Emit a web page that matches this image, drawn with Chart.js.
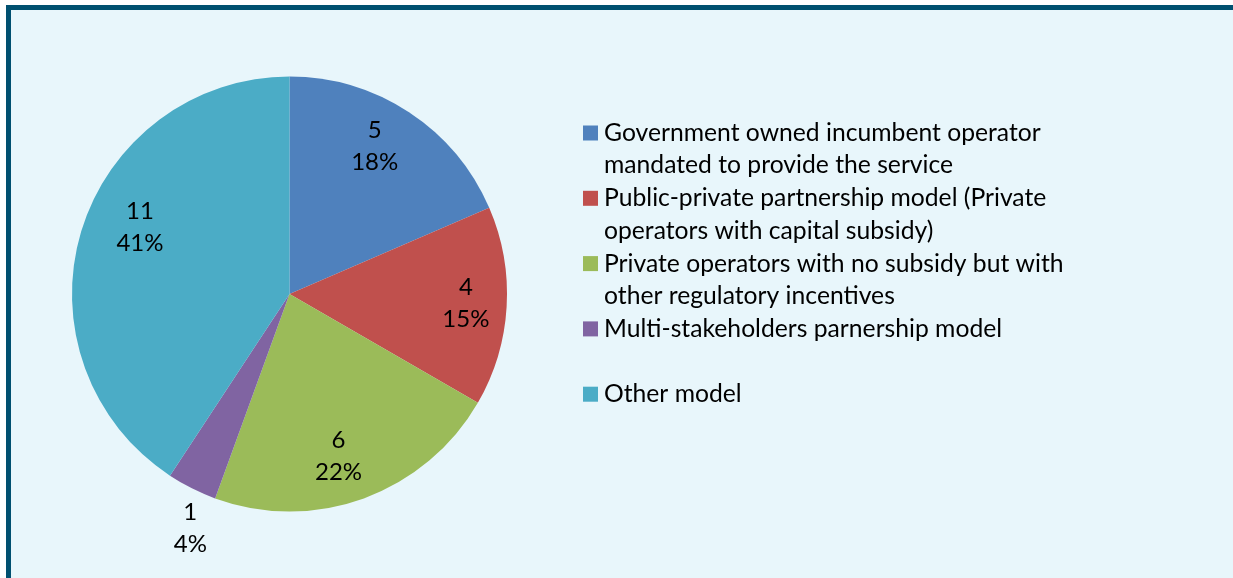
<!DOCTYPE html>
<html>
<head>
<meta charset="utf-8">
<script src="https://cdn.jsdelivr.net/npm/chart.js@4.4.0/dist/chart.umd.min.js"></script>
<style>
  html, body { margin: 0; padding: 0; background: #ffffff; }
  #frame {
    position: absolute; left: 6px; top: 5px;
    width: 1227px; height: 571px;
    border-top: 5px solid #005070;
    border-left: 5px solid #005070;
    border-bottom: 2px solid #005070;
    background: #e8f6fb;
  }
  #wrap { position: absolute; left: 0; top: 0; width: 1222px; height: 566px; }
</style>
</head>
<body>
<div id="frame"><div id="wrap"><canvas id="pie"></canvas></div></div>
<script>
// categories (legend lines kept as they wrap in the original)
const categories = [
  ['Government owned incumbent operator', 'mandated to provide the service'],
  ['Public-private partnership model (Private', 'operators with capital subsidy)'],
  ['Private operators with no subsidy but with', 'other regulatory incentives'],
  ['Multi-stakeholders parnership model'],
  ['Other model']
];
const counts = [5, 4, 6, 1, 11];
const sliceColors = ['#4f81bd', '#c0504d', '#9bbb59', '#8064a2', '#4bacc6'];

const FONT = 'Lato, "Open Sans", sans-serif';

// percentages that add up to 100 (largest remainder, like the spreadsheet does)
function percents(vals) {
  const total = vals.reduce((a, b) => a + b, 0);
  const raw = vals.map(v => v / total * 100);
  const out = raw.map(Math.floor);
  let left = 100 - out.reduce((a, b) => a + b, 0);
  raw.map((r, i) => [r - Math.floor(r), i])
     .sort((a, b) => b[0] - a[0])
     .slice(0, left)
     .forEach(([, i]) => out[i]++);
  return out;
}

// small "best fit" nudges for the label boxes, per slice
const nudge = [[-8, -6], [7, -1], [-9, 3], [15, 7], [13, -18]];

const labelPlugin = {
  id: 'sliceLabels',
  afterDatasetsDraw(chart) {
    const ctx = chart.ctx;
    const meta = chart.getDatasetMeta(0);
    const pct = percents(counts);
    ctx.save();
    ctx.font = '24px ' + FONT;
    ctx.fillStyle = '#000';
    ctx.textAlign = 'center';
    ctx.textBaseline = 'middle';
    meta.data.forEach((arc, i) => {
      const p = arc.getProps(['x', 'y', 'startAngle', 'endAngle', 'outerRadius'], true);
      const mid = (p.startAngle + p.endAngle) / 2;
      const f = pct[i] < 5 ? 1.17 : 0.78;
      const cx = p.x + Math.cos(mid) * p.outerRadius * f + nudge[i][0];
      const cy = p.y + Math.sin(mid) * p.outerRadius * f + nudge[i][1];
      ctx.fillText(String(counts[i]), cx, cy - 16);
      ctx.fillText(pct[i] + '%', cx, cy + 16);
    });
    ctx.restore();
  }
};

const legendPlugin = {
  id: 'sideLegend',
  afterDraw(chart) {
    const ctx = chart.ctx;
    const x0 = 572, y0 = 123, step = 65.3, lh = 32.5;
    ctx.save();
    ctx.font = '24.7px ' + FONT;
    ctx.textBaseline = 'middle';
    ctx.textAlign = 'left';
    chart.data.labels.forEach((lines, i) => {
      const y = y0 + i * step;
      ctx.fillStyle = chart.data.datasets[0].backgroundColor[i];
      ctx.fillRect(x0, y - 7.5, 15, 15);
      ctx.fillStyle = '#000';
      lines.forEach((ln, j) => ctx.fillText(ln, x0 + 21, y + j * lh));
    });
    ctx.restore();
  }
};

new Chart(document.getElementById('pie'), {
  type: 'pie',
  data: {
    labels: categories,
    datasets: [{
      data: counts,
      backgroundColor: sliceColors,
      borderWidth: 0
    }]
  },
  options: {
    responsive: true,
    maintainAspectRatio: false,
    animation: false,
    layout: { padding: { left: 61, top: 66, bottom: 64, right: 726 } },
    plugins: {
      legend: { display: false },
      tooltip: { enabled: false },
      title: { display: false }
    }
  },
  plugins: [labelPlugin, legendPlugin]
});
</script>
</body>
</html>
